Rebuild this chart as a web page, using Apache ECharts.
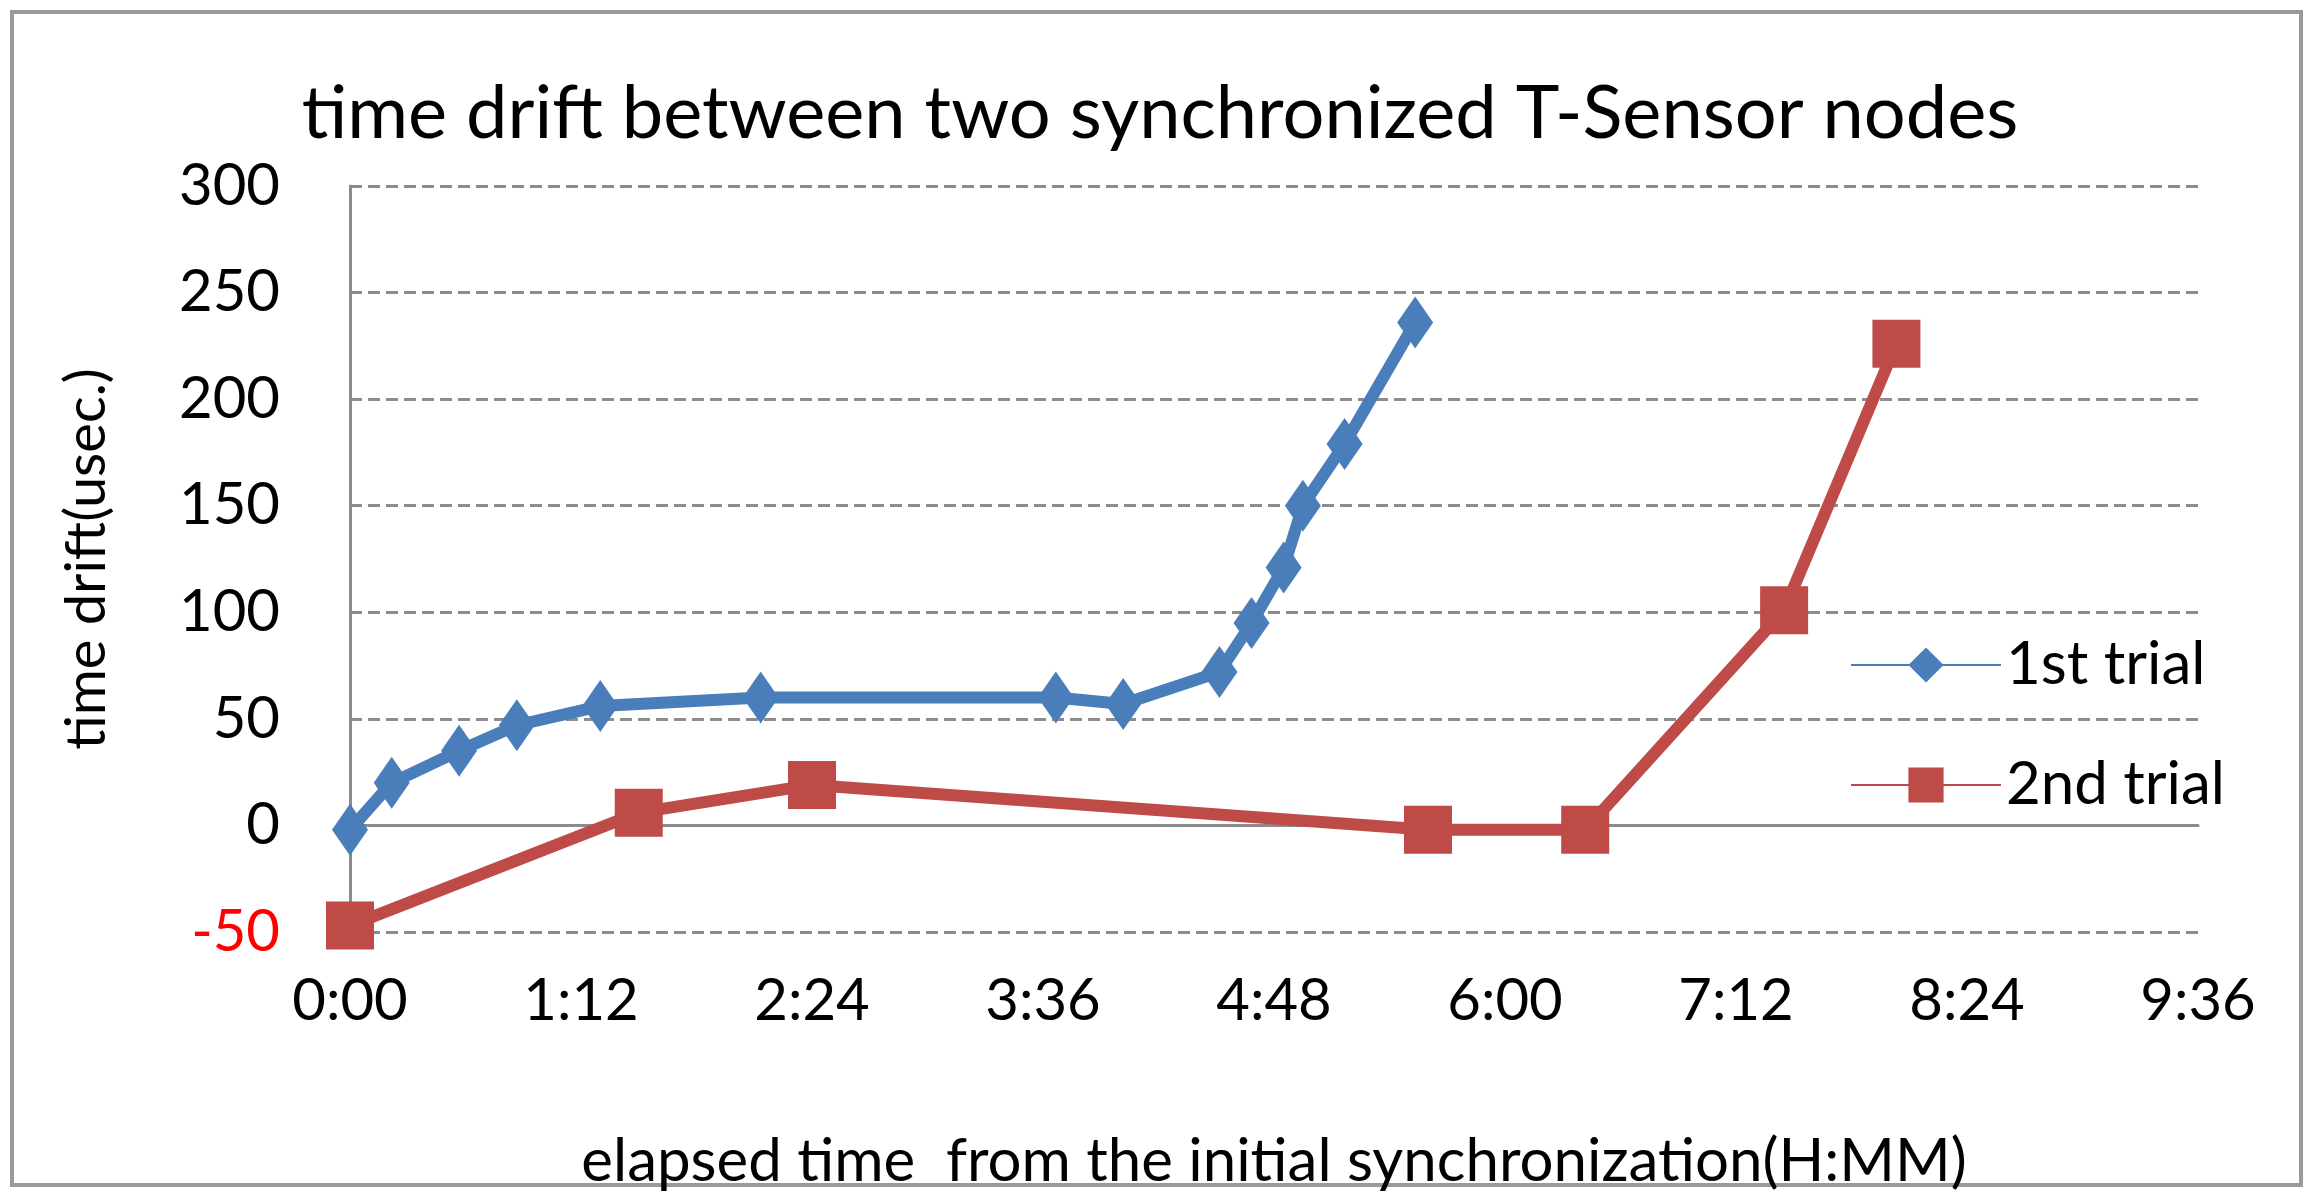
<!DOCTYPE html>
<html><head><meta charset="utf-8">
<script src="https://cdn.jsdelivr.net/npm/echarts@6/dist/echarts.min.js"></script>
<style>html,body{margin:0;padding:0;background:#fff}#c{width:2313px;height:1197px}</style>
</head><body><div id="c"></div>
<script>
const trial1X = [0, 13, 34, 52, 78, 128, 220, 241, 271, 281, 291, 297, 310, 332];
const trial1Y = [-2, 20, 35, 47, 56, 60, 60, 57, 72, 95, 121, 150, 179, 236];
const trial2X = [0, 90, 144, 336, 385, 447, 482];
const trial2Y = [-47, 6, 19, -2, -2, 101, 226];
const yTicks = [-50, 0, 50, 100, 150, 200, 250, 300];

const font = 'Lato, "Liberation Sans", sans-serif';
const chart = echarts.init(document.getElementById('c'));
function fmt(v){const h=Math.floor(v/60), m=Math.round(v%60); return h+':'+(m<10?'0':'')+m;}
chart.setOption({
  animation:false,
  backgroundColor:'#fff',
  graphic:[{type:'rect',shape:{x:12,y:12,width:2289,height:1173},style:{fill:'none',stroke:'#9a9a9a',lineWidth:4}}],
  title:{text:'time drift between two synchronized T-Sensor nodes',left:1155,top:72,textAlign:'center',
    textStyle:{fontFamily:font,fontSize:74,fontWeight:'normal',color:'#000'}},
  legend:{orient:'vertical',left:1845,top:630,itemWidth:150,itemHeight:44,itemGap:60,
    textStyle:{fontFamily:font,fontSize:60,color:'#000'},
    data:['1st trial','2nd trial']},
  grid:{left:350,right:115,top:186,bottom:141},
  xAxis:{type:'value',min:0,max:576,interval:72,
    name:'elapsed time  from the initial synchronization(H:MM)',nameLocation:'middle',nameGap:200,
    nameTextStyle:{fontFamily:font,fontSize:60,color:'#000'},
    axisLine:{onZero:true,lineStyle:{color:'#8c8c8c',width:3}},
    axisTick:{show:false},splitLine:{show:false},
    axisLabel:{formatter:fmt,fontFamily:font,fontSize:58,color:'#000',margin:40}},
  yAxis:{type:'value',min:-50,max:300,interval:50,
    name:'time drift(usec.)',nameLocation:'middle',nameGap:235,
    nameTextStyle:{fontFamily:font,fontSize:56,color:'#000'},
    axisLine:{show:true,lineStyle:{color:'#8c8c8c',width:3}},axisTick:{show:false},
    splitLine:{lineStyle:{color:'#8c8c8c',type:'dashed',width:3}},
    axisLabel:{fontFamily:font,fontSize:58,margin:70,
      color:function(v){return v<0?'#ff0000':'#000';}}},
  series:[
    {name:'1st trial',type:'line',data:trial1X.map((x,i)=>[x,trial1Y[i]]),
     symbol:'diamond',symbolSize:[36,52],lineStyle:{width:12,color:'#4a7ebb'},
     itemStyle:{color:'#4a7ebb'},z:3},
    {name:'2nd trial',type:'line',data:trial2X.map((x,i)=>[x,trial2Y[i]]),
     symbol:'rect',symbolSize:48,lineStyle:{width:12,color:'#be4b48'},
     itemStyle:{color:'#be4b48'},z:2}
  ]
});
</script></body></html>
